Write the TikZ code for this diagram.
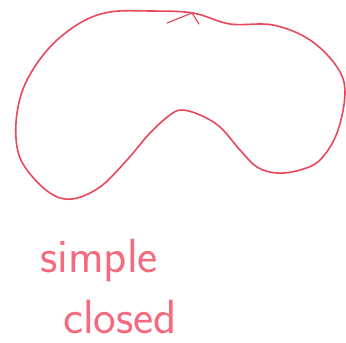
\documentclass[tikz,border=0pt]{standalone}
\usepackage{xcolor}
\usepackage{tikz}
\usetikzlibrary{positioning}
\definecolor{Ink}{HTML}{E8475C}
\definecolor{Pen}{HTML}{F46A7E}

\begin{document}
\begin{tikzpicture}[
  x=1pt,y=-1pt,
  loop/.style={draw=Ink,line width=1.6pt,line cap=round,line join=round},
  barb/.style={draw=Ink,line width=1.2pt,line cap=round},
  hand/.style={text=Pen,font=\fontsize{48}{52}\selectfont\sffamily,inner sep=0pt}
]
\useasboundingbox (0,0) rectangle (346,343);
% the closed curve
\draw[loop] plot[smooth cycle,tension=0.6] coordinates {
  (110,12) (150,11) (193,13) (230,24) (273,25) (310,40) (337,67) (345,93)
  (337,133) (320,160) (300,170) (277,173) (257,167) (240,150) (220,127)
  (200,115) (182,110) (170,115) (150,133) (127,160) (100,187) (72,199)
  (50,193) (27,170) (17,147) (17,113) (27,80) (50,47) (80,23)};
% arrow mark on top
\coordinate (tip) at (192,13);
\draw[barb] (tip) -- ++(-25,10);
\draw[barb] (tip) -- ++(7,11);
% label
\node[hand,anchor=base west] (simple) at (40,272) {simple};
\node[hand,anchor=base west] (closed) at (63,333) {closed};
\end{tikzpicture}
\end{document}
